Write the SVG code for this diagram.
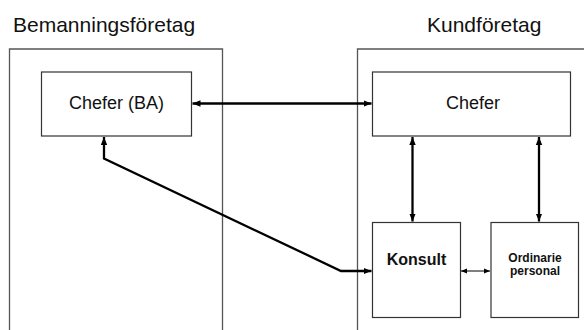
<svg xmlns="http://www.w3.org/2000/svg" width="584" height="330" viewBox="0 0 584 330">
<defs>
<style>
.outer{fill:none;stroke:#555;stroke-width:1.3}
.box{fill:#fff;stroke:#333;stroke-width:1.2}
.title{font-family:"Liberation Sans",Arial,sans-serif;font-size:21px;fill:#111}
.lbl{font-family:"Liberation Sans",Arial,sans-serif;font-size:18px;fill:#111;text-anchor:middle}
.blbl{font-family:"Liberation Sans",Arial,sans-serif;font-weight:bold;fill:#111;text-anchor:middle}
.thick{fill:none;stroke:#000;stroke-width:2.3;marker-start:url(#ah);marker-end:url(#ah)}
.thin{fill:none;stroke:#000;stroke-width:1;marker-start:url(#ahs);marker-end:url(#ahs)}
</style>
<marker id="ah" markerUnits="userSpaceOnUse" markerWidth="8" markerHeight="8" viewBox="0 0 8 8" refX="8" refY="4" orient="auto-start-reverse">
<path d="M0,0.8 L8,4 L0,7.2 Z" fill="#000"/>
</marker>
<marker id="ahs" markerUnits="userSpaceOnUse" markerWidth="6" markerHeight="6" viewBox="0 0 6 6" refX="6" refY="3" orient="auto-start-reverse">
<path d="M0,0.5 L6,3 L0,5.5 Z" fill="#000"/>
</marker>
</defs>
<rect width="584" height="330" fill="#fff"/>
<g id="bemanningsforetag">
<path class="outer" d="M9.5,331 V49 H222.5 V331"/>
<text class="title" x="13" y="32">Bemanningsföretag</text>
</g>
<g id="kundforetag">
<path class="outer" d="M357.5,331 V49 H586"/>
<text class="title" x="427" y="32">Kundföretag</text>
</g>
<g id="chefer-ba">
<rect class="box" x="41.5" y="72" width="150" height="64"/>
<text class="lbl" x="116.5" y="109">Chefer (BA)</text>
</g>
<g id="chefer">
<rect class="box" x="372.5" y="72" width="198" height="64"/>
<text class="lbl" x="473" y="109">Chefer</text>
</g>
<g id="konsult">
<rect class="box" x="372.5" y="222.5" width="88" height="95"/>
<text class="blbl" x="416.5" y="265" font-size="16">Konsult</text>
</g>
<g id="ordinarie">
<rect class="box" x="491" y="222.5" width="87.5" height="95"/>
<text class="blbl" x="535" y="261.5" font-size="12">Ordinarie</text>
<text class="blbl" x="535" y="275" font-size="12">personal</text>
</g>
<g id="connectors">
<path class="thick" d="M192.5,103.5 H371.5"/>
<path class="thick" d="M412.5,137 V221.5"/>
<path class="thick" d="M539,137 V221.5"/>
<path class="thick" d="M104,137 V158.5 L341,271 H371.5"/>
<path class="thin" d="M461,271 H490"/>
</g>
</svg>
